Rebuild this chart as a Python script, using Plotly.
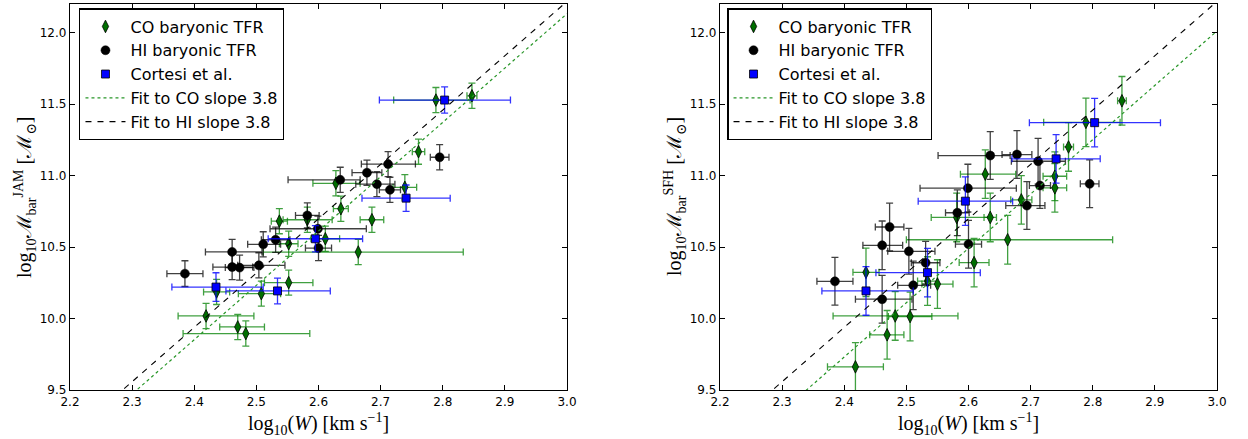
import plotly.graph_objects as go

# ---------------- data ----------------
# HI baryonic TFR (same galaxies, both panels)
hi_x = [2.385, 2.461, 2.461, 2.473, 2.504, 2.511, 2.531, 2.582, 2.599, 2.600, 2.635, 2.678, 2.694, 2.712, 2.715, 2.795]
hi_xm = [0.029, 0.043, 0.031, 0.023, 0.034, 0.025, 0.023, 0.019, 0.077, 0.021, 0.084, 0.024, 0.034, 0.043, 0.017, 0.015]
hi_xp = [0.029, 0.048, 0.033, 0.023, 0.042, 0.028, 0.023, 0.019, 0.078, 0.021, 0.032, 0.024, 0.029, 0.044, 0.017, 0.015]
hi_y_jam = [10.314, 10.466, 10.36, 10.356, 10.372, 10.519, 10.551, 10.721, 10.628, 10.493, 10.97, 11.02, 10.94, 11.08, 10.90, 11.128]
hi_yerr_jam = [0.090, 0.088, 0.088, 0.088, 0.088, 0.088, 0.088, 0.088, 0.088, 0.088, 0.088, 0.088, 0.088, 0.088, 0.088, 0.088]
hi_y_sfh = [10.26, 10.135, 10.512, 10.64, 10.47, 10.232, 10.39, 10.74, 10.912, 10.52, 11.14, 11.147, 10.79, 11.10, 10.93, 10.942]
hi_yerr_sfh = [0.167, 0.167, 0.170, 0.167, 0.160, 0.170, 0.150, 0.160, 0.167, 0.167, 0.167, 0.167, 0.167, 0.160, 0.160, 0.167]

# Cortesi et al.
cort_x = [2.435, 2.534, 2.595, 2.741, 2.803]
cort_xm = [0.071, 0.083, 0.076, 0.071, 0.105]
cort_xp = [0.076, 0.085, 0.076, 0.071, 0.106]
cort_y_jam = [10.22, 10.193, 10.558, 10.842, 11.528]
cort_yerr_jam = [0.100, 0.090, 0.092, 0.092, 0.092]
cort_y_sfh = [10.193, 10.321, 10.821, 11.117, 11.37]
cort_yerr_sfh = [0.170, 0.170, 0.170, 0.170, 0.170]

# CO baryonic TFR, JAM panel
co_jam_x = [2.419, 2.470, 2.483, 2.436, 2.508, 2.552, 2.664, 2.611, 2.552, 2.537, 2.582, 2.636, 2.686, 2.628, 2.739, 2.761, 2.847, 2.789]
co_jam_y = [10.018, 9.941, 9.895, 10.186, 10.174, 10.251, 10.465, 10.558, 10.523, 10.681, 10.691, 10.768, 10.691, 10.946, 10.918, 11.167, 11.558, 11.528]
co_jam_xm = [0.045, 0.029, 0.101, 0.021, 0.037, 0.039, 0.153, 0.023, 0.015, 0.013, 0.039, 0.012, 0.019, 0.037, 0.019, 0.010, 0.008, 0.068]
co_jam_xp = [0.077, 0.043, 0.103, 0.021, 0.031, 0.039, 0.169, 0.023, 0.015, 0.013, 0.040, 0.012, 0.019, 0.039, 0.019, 0.010, 0.008, 0.055]
co_jam_yerr = [0.088] * 18

# CO baryonic TFR, SFH panel
co_sfh_x = [2.418, 2.469, 2.482, 2.506, 2.435, 2.534, 2.550, 2.609, 2.635, 2.581, 2.847, 2.789, 2.761, 2.739, 2.739, 2.685, 2.627, 2.663]
co_sfh_y = [9.662, 9.886, 10.018, 10.014, 10.323, 10.262, 10.241, 10.391, 10.707, 10.707, 11.523, 11.372, 11.200, 10.995, 10.914, 10.830, 11.010, 10.551]
co_sfh_xm = [0.045, 0.028, 0.100, 0.035, 0.021, 0.016, 0.025, 0.024, 0.010, 0.041, 0.007, 0.068, 0.008, 0.019, 0.019, 0.017, 0.040, 0.163]
co_sfh_xp = [0.045, 0.027, 0.101, 0.035, 0.021, 0.016, 0.025, 0.024, 0.010, 0.055, 0.007, 0.055, 0.008, 0.019, 0.019, 0.017, 0.049, 0.169]
co_sfh_yerr = [0.17] * 18

# fits (slope 3.8)
fit_slope = 3.8
fit_x = [2.2, 3.0]
fit_co_icpt = {"jam": 0.732, "sfh": 0.611}
fit_hi_icpt = {"jam": 0.818, "sfh": 0.818}

x_ticks = [2.2, 2.3, 2.4, 2.5, 2.6, 2.7, 2.8, 2.9, 3.0]
y_ticks = [9.5, 10.0, 10.5, 11.0, 11.5, 12.0]

# ---------------- figure ----------------
fig = go.Figure()

def err(arr_p, arr_m, color):
    return dict(type="data", symmetric=False, array=arr_p, arrayminus=arr_m,
                color=color, thickness=1.3, width=3.5)

def yerr(arr, color):
    return dict(type="data", array=arr, color=color, thickness=1.3, width=3.5)

panels = [
    ("x", "y", "legend", co_jam_x, co_jam_y, co_jam_xm, co_jam_xp, co_jam_yerr,
     hi_y_jam, hi_yerr_jam, cort_y_jam, cort_yerr_jam, "jam"),
    ("x2", "y2", "legend2", co_sfh_x, co_sfh_y, co_sfh_xm, co_sfh_xp, co_sfh_yerr,
     hi_y_sfh, hi_yerr_sfh, cort_y_sfh, cort_yerr_sfh, "sfh"),
]

for (xa, ya, lg, cx, cy, cxm, cxp, cye, hy, hye, ky, kye, key) in panels:
    fig.add_trace(go.Scatter(
        x=cx, y=cy, mode="markers", name="CO baryonic TFR", xaxis=xa, yaxis=ya, legend=lg,
        marker=dict(symbol="diamond-tall", size=9, color="rgb(0,110,0)",
                    line=dict(color="black", width=0.8)),
        error_x=err(cxp, cxm, "rgba(0,128,0,0.75)"),
        error_y=yerr(cye, "rgba(0,128,0,0.75)")))
    fig.add_trace(go.Scatter(
        x=hi_x, y=hy, mode="markers", name="HI baryonic TFR", xaxis=xa, yaxis=ya, legend=lg,
        marker=dict(symbol="circle", size=9, color="black",
                    line=dict(color="black", width=0.5)),
        error_x=err(hi_xp, hi_xm, "rgba(0,0,0,0.75)"),
        error_y=yerr(hye, "rgba(0,0,0,0.75)")))
    fig.add_trace(go.Scatter(
        x=cort_x, y=ky, mode="markers", name="Cortesi et al.", xaxis=xa, yaxis=ya, legend=lg,
        marker=dict(symbol="square", size=8, color="rgb(0,0,255)",
                    line=dict(color="black", width=0.8)),
        error_x=err(cort_xp, cort_xm, "rgba(0,0,255,0.8)"),
        error_y=yerr(kye, "rgba(0,0,255,0.8)")))
    fig.add_trace(go.Scatter(
        x=fit_x, y=[fit_slope * v + fit_co_icpt[key] for v in fit_x], mode="lines",
        name="Fit to CO slope 3.8", xaxis=xa, yaxis=ya, legend=lg,
        line=dict(color="rgb(40,150,40)", width=1.2, dash="dot")))
    fig.add_trace(go.Scatter(
        x=fit_x, y=[fit_slope * v + fit_hi_icpt[key] for v in fit_x], mode="lines",
        name="Fit to HI slope 3.8", xaxis=xa, yaxis=ya, legend=lg,
        line=dict(color="black", width=1.1, dash="6px,6px")))

L_DOM = [0.0, 0.4333]
R_DOM = [0.5667, 1.0]

axis_common = dict(showline=True, linecolor="black", linewidth=1.3, mirror="allticks",
                   ticks="inside", ticklen=5, tickwidth=1, tickcolor="black",
                   showgrid=False, zeroline=False, tickformat=".1f",
                   tickfont=dict(family="DejaVu Sans", size=12, color="black"))

legend_common = dict(bgcolor="white", bordercolor="black", borderwidth=1.3,
                     font=dict(family="DejaVu Sans", size=16, color="black"),
                     xanchor="left", yanchor="top", itemwidth=40, tracegroupgap=0)

fig.update_layout(
    width=1248, height=439,
    margin=dict(l=70, r=31, t=4, b=49),
    paper_bgcolor="white", plot_bgcolor="white",
    font=dict(family="DejaVu Sans", color="black"),
    xaxis=dict(domain=L_DOM, range=[2.2, 3.0], tickvals=x_ticks, anchor="y", **axis_common),
    yaxis=dict(domain=[0, 1], range=[9.5, 12.2], tickvals=y_ticks, anchor="x", **axis_common),
    xaxis2=dict(domain=R_DOM, range=[2.2, 3.0], tickvals=x_ticks, anchor="y2", **axis_common),
    yaxis2=dict(domain=[0, 1], range=[9.5, 12.2], tickvals=y_ticks, anchor="x2", **axis_common),
    legend=dict(x=0.008, y=0.989, **legend_common),
    legend2=dict(x=0.573, y=0.989, **legend_common),
)

title_font = dict(family="Liberation Serif, DejaVu Serif", size=20, color="black")
xtitle = "log<sub>10</sub>(<i>W</i>) [km s<sup>−1</sup>]"
for xc in [(L_DOM[0] + L_DOM[1]) / 2, (R_DOM[0] + R_DOM[1]) / 2]:
    fig.add_annotation(x=xc, y=0, xref="paper", yref="paper", text=xtitle, showarrow=False,
                       xanchor="center", yanchor="middle", yshift=-34, font=title_font)
ytitles = ["log<sub>10</sub>ℳ<sub>bar</sub><sup>JAM</sup> [ℳ<sub>⊙</sub>]",
           "log<sub>10</sub>ℳ<sub>bar</sub><sup>SFH</sup> [ℳ<sub>⊙</sub>]"]
for xd, t in zip([L_DOM[0], R_DOM[0]], ytitles):
    fig.add_annotation(x=xd, y=0.5, xref="paper", yref="paper", text=t, showarrow=False,
                       textangle=-90, xanchor="center", yanchor="middle", xshift=-45,
                       font=title_font)

fig.write_html("out.html")
